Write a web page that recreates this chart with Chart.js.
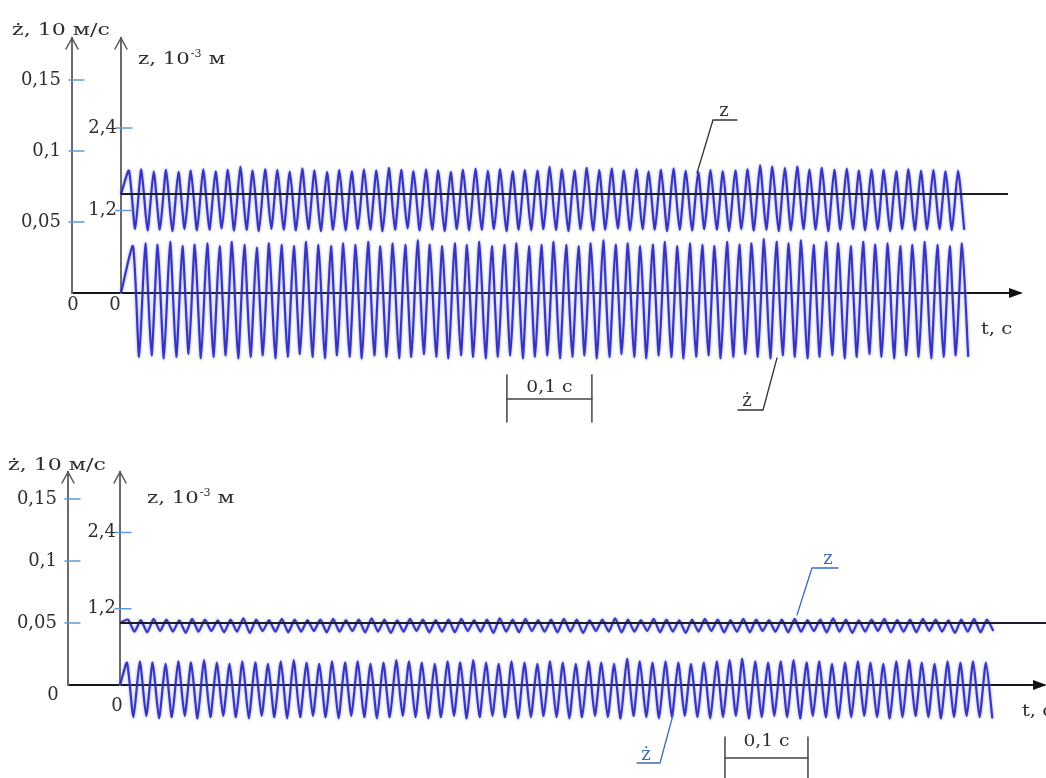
<!DOCTYPE html>
<html>
<head>
<meta charset="utf-8">
<script src="https://cdn.jsdelivr.net/npm/chart.js@4.4.1/dist/chart.umd.min.js"></script>
<style>
  body { margin: 0; background: #fff; }
  #wrap { position: relative; width: 1046px; height: 778px; overflow: hidden; }
  canvas { position: absolute; left: 0; }
  #topChart { top: 0; }
  #bottomChart { top: 440px; }
</style>
</head>
<body>
<div id="wrap">
  <canvas id="topChart" width="1046" height="430"></canvas>
  <canvas id="bottomChart" width="1046" height="338"></canvas>
</div>
<script>
// tick values of the two vertical axes
var zdTicks = [0.05, 0.1, 0.15];   // ż, 10 м/с
var zTicks = [1.2, 2.4];           // z, 10^-3 м

// ---- upper oscillogram ----
var topPeriod = 0.014557;   // c
var topZFirst = 0.0094;     // time of first z peak
var topZdFirst = 0.0141;    // time of first ż peak
var topZMean = 1.44;
var topMeanEnd = 1.0435;

var topZPeaks = [
  1.78, 1.80, 1.77, 1.79, 1.76, 1.78, 1.80, 1.77, 1.79, 1.84, 1.78, 1.80, 1.79, 1.77, 1.81, 1.78, 1.76,
  1.79, 1.77, 1.80, 1.78, 1.82, 1.79, 1.77, 1.80, 1.78, 1.76, 1.79, 1.81, 1.78, 1.80, 1.77, 1.79, 1.78,
  1.84, 1.80, 1.78, 1.82, 1.79, 1.81, 1.78, 1.80, 1.77, 1.79, 1.81, 1.78, 1.76, 1.79, 1.77, 1.78, 1.80,
  1.86, 1.84, 1.82, 1.84, 1.80, 1.82, 1.79, 1.81, 1.78, 1.80, 1.79, 1.77, 1.80, 1.78, 1.79, 1.77, 1.78
];
var topZTroughs = [
  0.93, 0.91, 0.92, 0.90, 0.93, 0.91, 0.92, 0.94, 0.91, 0.92, 0.90, 0.93, 0.92, 0.91, 0.93, 0.90, 0.92,
  0.91, 0.93, 0.92, 0.90, 0.92, 0.94, 0.91, 0.92, 0.90, 0.93, 0.91, 0.92, 0.93, 0.90, 0.92, 0.91, 0.93,
  0.92, 0.90, 0.93, 0.91, 0.92, 0.94, 0.91, 0.93, 0.92, 0.90, 0.92, 0.91, 0.93, 0.92, 0.90, 0.93, 0.91,
  0.92, 0.90, 0.91, 0.93, 0.92, 0.90, 0.92, 0.93, 0.91, 0.92, 0.90, 0.93, 0.91, 0.92, 0.93, 0.91, 0.92
];
var topZdPeaks = [
  0.033, 0.035, 0.034, 0.036, 0.033, 0.034, 0.035, 0.033, 0.036, 0.034, 0.032, 0.035, 0.034, 0.033, 0.036, 0.034, 0.033,
  0.035, 0.034, 0.036, 0.033, 0.035, 0.034, 0.037, 0.034, 0.033, 0.035, 0.034, 0.036, 0.033, 0.034, 0.035, 0.033, 0.034,
  0.036, 0.034, 0.033, 0.035, 0.037, 0.034, 0.035, 0.033, 0.034, 0.036, 0.033, 0.035, 0.034, 0.033, 0.036, 0.034, 0.035,
  0.038, 0.036, 0.035, 0.037, 0.034, 0.036, 0.035, 0.033, 0.036, 0.034, 0.035, 0.033, 0.034, 0.036, 0.034, 0.033, 0.035
];
var topZdTroughs = [
  -0.045, -0.044, -0.046, -0.045, -0.043, -0.046, -0.045, -0.044, -0.046, -0.045, -0.044, -0.046, -0.045, -0.043, -0.045, -0.046, -0.044,
  -0.045, -0.046, -0.044, -0.045, -0.046, -0.045, -0.043, -0.045, -0.046, -0.044, -0.045, -0.046, -0.045, -0.044, -0.046, -0.045, -0.044,
  -0.046, -0.045, -0.044, -0.046, -0.045, -0.043, -0.045, -0.046, -0.044, -0.045, -0.046, -0.045, -0.044, -0.046, -0.045, -0.043, -0.045,
  -0.046, -0.044, -0.045, -0.046, -0.045, -0.044, -0.046, -0.045, -0.043, -0.045, -0.046, -0.044, -0.045, -0.046, -0.045, -0.044, -0.045
];

// ---- lower oscillogram ----
var botPeriod = 0.015447;
var botZFirst = 0.0096;
var botZdFirst = 0.0084;
var botZMean = 0.976;
var botMeanEnd = 1.1157;

var botZPeaks = [
  1.03, 1.02, 1.04, 1.03, 1.02, 1.04, 1.03, 1.02, 1.03, 1.05, 1.03, 1.02, 1.04, 1.03, 1.02, 1.03, 1.04,
  1.02, 1.03, 1.05, 1.03, 1.02, 1.04, 1.03, 1.02, 1.03, 1.04, 1.02, 1.03, 1.05, 1.03, 1.04, 1.02, 1.03,
  1.04, 1.03, 1.02, 1.03, 1.05, 1.03, 1.02, 1.04, 1.03, 1.02, 1.03, 1.04, 1.03, 1.02, 1.04, 1.03, 1.02,
  1.03, 1.04, 1.02, 1.03, 1.05, 1.03, 1.02, 1.03, 1.04, 1.02, 1.03, 1.04, 1.03, 1.02, 1.03, 1.04, 1.03
];
var botZTroughs = [
  0.84, 0.83, 0.85, 0.84, 0.82, 0.84, 0.85, 0.83, 0.84, 0.82, 0.85, 0.84, 0.83, 0.84, 0.85, 0.83, 0.84,
  0.85, 0.83, 0.84, 0.82, 0.84, 0.85, 0.83, 0.84, 0.83, 0.85, 0.84, 0.82, 0.84, 0.83, 0.85, 0.84, 0.83,
  0.84, 0.82, 0.85, 0.84, 0.83, 0.84, 0.85, 0.83, 0.84, 0.82, 0.84, 0.85, 0.83, 0.84, 0.83, 0.85, 0.84,
  0.83, 0.84, 0.85, 0.83, 0.84, 0.82, 0.84, 0.85, 0.83, 0.84, 0.83, 0.85, 0.84, 0.82, 0.84, 0.83, 0.85
];
var botZdPeaks = [
  0.018, 0.019, 0.018, 0.017, 0.019, 0.018, 0.020, 0.018, 0.017, 0.019, 0.018, 0.017, 0.019, 0.020, 0.018, 0.017, 0.019,
  0.018, 0.019, 0.017, 0.018, 0.020, 0.019, 0.018, 0.017, 0.019, 0.018, 0.020, 0.018, 0.017, 0.019, 0.018, 0.017, 0.019,
  0.018, 0.017, 0.019, 0.018, 0.017, 0.021, 0.019, 0.018, 0.019, 0.018, 0.017, 0.018, 0.019, 0.020, 0.021, 0.019, 0.018,
  0.019, 0.020, 0.018, 0.019, 0.017, 0.018, 0.019, 0.018, 0.017, 0.019, 0.020, 0.018, 0.017, 0.019, 0.018, 0.019, 0.018
];
var botZdTroughs = [
  -0.026, -0.025, -0.027, -0.026, -0.025, -0.027, -0.026, -0.025, -0.026, -0.027, -0.025, -0.026, -0.027, -0.026, -0.025, -0.026, -0.027,
  -0.025, -0.026, -0.027, -0.026, -0.025, -0.026, -0.027, -0.026, -0.025, -0.027, -0.026, -0.025, -0.026, -0.027, -0.026, -0.025, -0.026,
  -0.027, -0.026, -0.025, -0.026, -0.027, -0.025, -0.026, -0.027, -0.026, -0.025, -0.026, -0.027, -0.026, -0.025, -0.027, -0.026, -0.025,
  -0.026, -0.027, -0.025, -0.026, -0.027, -0.026, -0.025, -0.026, -0.027, -0.026, -0.025, -0.026, -0.027, -0.026, -0.025, -0.026, -0.027
];

var FONT = '"DejaVu Serif", "Liberation Serif", serif';
var INK = '#2e2e2e';

function fmt(v) { return String(v).replace('.', ','); }

// one point per peak and per trough, half a period apart
function wave(peaks, troughs, first, period, startValue) {
  var pts = [{x: 0, y: startValue}];
  peaks.forEach(function (p, i) {
    pts.push({x: first + i * period, y: p});
    if (troughs[i] !== undefined) pts.push({x: first + (i + 0.5) * period, y: troughs[i]});
  });
  return pts;
}

function text(ctx, s, x, y, o) {
  o = o || {};
  ctx.save();
  ctx.font = (o.size || 17) + 'px ' + FONT;
  ctx.fillStyle = o.color || INK;
  ctx.textAlign = o.align || 'left';
  ctx.textBaseline = o.base || 'alphabetic';
  ctx.translate(x, y);
  ctx.scale(o.sx || 1, 1);
  ctx.fillText(s, 0, 0);
  ctx.restore();
}

function line(ctx, pts) {
  ctx.beginPath();
  ctx.moveTo(pts[0][0], pts[0][1]);
  for (var i = 1; i < pts.length; i++) ctx.lineTo(pts[i][0], pts[i][1]);
  ctx.stroke();
}

var decorPlugin = {
  id: 'decor',
  // soft halo round the oscillation traces
  beforeDatasetDraw: function (chart, args) {
    if (args.index === 0) return;
    chart.ctx.save();
    chart.ctx.shadowColor = 'rgba(110,110,235,0.75)';
    chart.ctx.shadowBlur = 3;
  },
  afterDatasetDraw: function (chart, args) {
    if (args.index === 0) return;
    chart.ctx.restore();
  },
  afterDraw: function (chart, args, o) {
    var ctx = chart.ctx, a = chart.chartArea;
    var xs = chart.scales.x, zd = chart.scales.zd, z = chart.scales.z;
    var x0 = xs.getPixelForValue(0);
    ctx.save();
    ctx.lineCap = 'round';

    // open arrow heads of the two vertical axes
    ctx.strokeStyle = '#555';
    ctx.lineWidth = 1.5;
    [a.left, x0].forEach(function (x) {
      line(ctx, [[x - 6, a.top + 11], [x, a.top], [x + 6, a.top + 11]]);
    });
    // filled arrow of the t axis
    ctx.fillStyle = '#111';
    ctx.beginPath();
    ctx.moveTo(a.right + 3, a.bottom);
    ctx.lineTo(a.right - 11, a.bottom - 5);
    ctx.lineTo(a.right - 11, a.bottom + 5);
    ctx.closePath();
    ctx.fill();

    // blue tick marks
    ctx.strokeStyle = '#5f9bd6';
    ctx.lineWidth = 1.5;
    zdTicks.forEach(function (v) {
      var y = zd.getPixelForValue(v);
      line(ctx, [[a.left - 3, y], [a.left + 12, y]]);
    });
    zTicks.forEach(function (v) {
      var y = z.getPixelForValue(v);
      line(ctx, [[x0 - 5, y], [x0 + 11, y]]);
      text(ctx, fmt(v), x0 - 4, y, {align: 'right', base: 'middle', size: 18});
    });

    // zeros
    o.zeros.forEach(function (p) { text(ctx, '0', p[0], p[1], {align: 'center', base: 'middle', size: 18}); });

    // axis titles
    text(ctx, 'ż, 10 м/с', o.zdTitle[0], o.zdTitle[1], {sx: 1.3});
    ctx.font = '17px ' + FONT;
    var w = ctx.measureText('z, 10').width * 1.25;
    text(ctx, 'z, 10', o.zTitle[0], o.zTitle[1], {sx: 1.25});
    text(ctx, '-3', o.zTitle[0] + w + 1, o.zTitle[1] - 7, {size: 11});
    text(ctx, 'м', o.zTitle[0] + w + 19, o.zTitle[1], {sx: 1.25});
    text(ctx, 't, с', o.tLabel[0], o.tLabel[1], {sx: 1.15});

    // leaders with curve labels
    ctx.lineWidth = 1.3;
    o.leaders.forEach(function (l) {
      ctx.strokeStyle = l.color;
      line(ctx, l.pts);
      text(ctx, l.label, l.at[0], l.at[1], {color: l.color, align: 'center', size: 18});
    });

    // 0,1 c scale bar
    var b = o.bar;
    var bx1 = xs.getPixelForValue(b.t), bx2 = xs.getPixelForValue(b.t + 0.1);
    ctx.strokeStyle = '#444';
    ctx.lineWidth = 1.5;
    line(ctx, [[bx1, b.top], [bx1, b.bottom]]);
    line(ctx, [[bx2, b.top], [bx2, b.bottom]]);
    line(ctx, [[bx1, b.y], [bx2, b.y]]);
    text(ctx, '0,1 с', (bx1 + bx2) / 2, b.labelY, {align: 'center', base: 'middle', sx: 1.1});
    ctx.restore();
  }
};

var waveStyle = {
  borderColor: 'rgba(40,40,180,0.9)',
  borderWidth: 2.2,
  tension: 0.2,
  pointRadius: 0,
  fill: false,
  clip: false
};

function makeChart(id, d, lay) {
  return new Chart(document.getElementById(id), {
    type: 'line',
    data: {
      datasets: [
        {label: 'z mean', data: [{x: 0, y: d.zMean}, {x: d.meanEnd, y: d.zMean}], yAxisID: 'z',
         borderColor: '#1c1c28', borderWidth: 2, pointRadius: 0, tension: 0, clip: false},
        Object.assign({label: 'z', yAxisID: 'z',
          data: wave(d.zPeaks, d.zTroughs, d.zFirst, d.period, d.zMean)}, waveStyle),
        Object.assign({label: 'ż', yAxisID: 'zd',
          data: wave(d.zdPeaks, d.zdTroughs, d.zdFirst, d.period, 0)}, waveStyle)
      ]
    },
    options: {
      responsive: false,
      animation: false,
      layout: {padding: {left: 0, top: lay.top, right: lay.right, bottom: 0}},
      plugins: {legend: {display: false}, tooltip: {enabled: false}, decor: lay.decor},
      scales: {
        x: {
          type: 'linear', position: 'bottom', min: lay.tMin, max: lay.tMax, z: 1,
          grid: {display: false}, ticks: {display: false},
          border: {color: '#15151f', width: 2},
          afterFit: function (s) { s.height = lay.xH; }
        },
        zd: {
          type: 'linear', axis: 'y', position: 'left', min: 0, max: lay.zdMax,
          grid: {display: false},
          border: {color: '#6a6a6a', width: 2},
          ticks: {padding: 3, color: INK, font: {family: FONT, size: 18},
                  callback: function (v) { return fmt(v); }},
          afterBuildTicks: function (s) { s.ticks = zdTicks.map(function (v) { return {value: v}; }); },
          afterFit: function (s) { s.width = lay.left; }
        },
        z: {
          type: 'linear', axis: 'y', position: {x: 0}, min: 0, max: lay.zMax,
          grid: {display: false}, ticks: {display: false},
          border: {color: '#6a6a6a', width: 2}
        }
      }
    },
    plugins: [decorPlugin]
  });
}

makeChart('topChart', {
  zPeaks: topZPeaks, zTroughs: topZTroughs, zdPeaks: topZdPeaks, zdTroughs: topZdTroughs,
  period: topPeriod, zFirst: topZFirst, zdFirst: topZdFirst, zMean: topZMean, meanEnd: topMeanEnd
}, {
  top: 38, right: 26, left: 72, xH: 137,
  tMin: -0.0576, tMax: 1.0576, zdMax: 0.1796, zMax: 3.71,
  decor: {
    zeros: [[73, 305], [115, 305]],
    zdTitle: [12, 35], zTitle: [138, 64], tLabel: [981, 334],
    leaders: [
      {pts: [[697, 173], [713, 120], [737, 120]], label: 'z', at: [724, 116], color: '#333'},
      {pts: [[777, 358], [763, 410], [738, 410]], label: 'ż', at: [747, 406], color: '#333'}
    ],
    bar: {t: 0.454, top: 375, bottom: 422, y: 399, labelY: 388}
  }
});

makeChart('bottomChart', {
  zPeaks: botZPeaks, zTroughs: botZTroughs, zdPeaks: botZdPeaks, zdTroughs: botZdTroughs,
  period: botPeriod, zFirst: botZFirst, zdFirst: botZdFirst, zMean: botZMean, meanEnd: botMeanEnd
}, {
  top: 32, right: 2, left: 68, xH: 93,
  tMin: -0.0627, tMax: 1.1133, zdMax: 0.1718, zMax: 3.354,
  decor: {
    zeros: [[53, 255], [117, 266]],
    zdTitle: [8, 30], zTitle: [147, 63], tLabel: [1022, 276],
    leaders: [
      {pts: [[797, 175], [812, 128], [838, 128]], label: 'z', at: [828, 124], color: '#3a6cc0'},
      {pts: [[673, 275], [660, 323], [637, 323]], label: 'ż', at: [646, 320], color: '#3a6cc0'}
    ],
    bar: {t: 0.7289, top: 297, bottom: 338, y: 318, labelY: 302}
  }
});
</script>
</body>
</html>
